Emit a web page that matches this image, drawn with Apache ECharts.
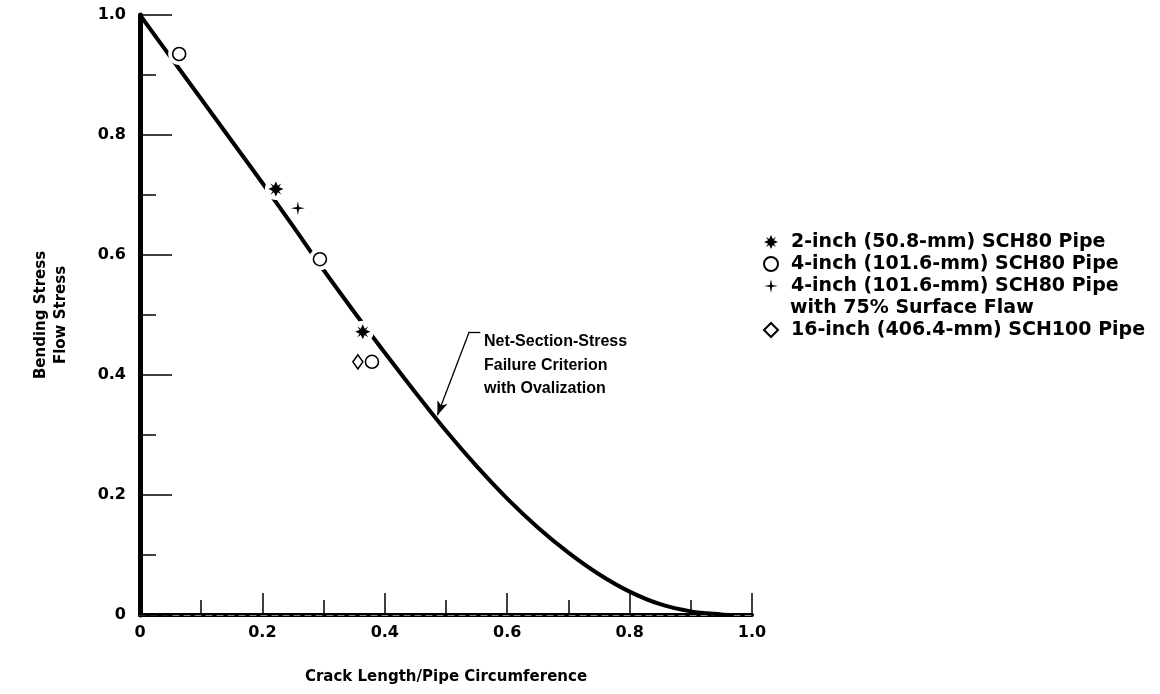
<!DOCTYPE html>
<html>
<head>
<meta charset="utf-8">
<script src="https://cdn.jsdelivr.net/npm/echarts@6/dist/echarts.min.js"></script>
<style>
  html, body { margin: 0; padding: 0; background: #ffffff; }
  #chart { width: 1160px; height: 694px; }
</style>
</head>
<body>
<div id="chart"></div>
<script>
// Net-section-stress failure criterion (with ovalization): crack length ratio vs. stress ratio
const curveX = [0, 0.05, 0.1, 0.15, 0.2, 0.25, 0.3, 0.35, 0.4, 0.45, 0.5, 0.55, 0.6, 0.65, 0.7, 0.75, 0.8, 0.85, 0.9, 0.95, 0.97];
const curveY = [1.0, 0.93, 0.86, 0.79, 0.72, 0.648, 0.575, 0.505, 0.437, 0.371, 0.307, 0.248, 0.194, 0.146, 0.104, 0.068, 0.039, 0.018, 0.006, 0.001, 0.0];

// Test results
const twoInchSch80 = [[0.222, 0.71], [0.364, 0.472]];
const fourInchSch80 = [[0.064, 0.935], [0.294, 0.593], [0.379, 0.422]];
const fourInchFlaw = [[0.258, 0.678]];
const sixteenInchSch100 = [[0.356, 0.422]];

const seriesNames = [
  '2-inch (50.8-mm) SCH80 Pipe',
  '4-inch (101.6-mm) SCH80 Pipe',
  '4-inch (101.6-mm) SCH80 Pipe',
  '16-inch (406.4-mm) SCH100 Pipe'
];
const flawNote = 'with 75% Surface Flaw';
const flawName = seriesNames[2] + ' ';

const xTickLabels = ['0', '0.2', '0.4', '0.6', '0.8', '1.0'];
const yTickLabels = ['0', '0.2', '0.4', '0.6', '0.8', '1.0'];
const xTitle = 'Crack Length/Pipe Circumference';
const yTitle = 'Bending Stress\nFlow Stress';
const curveNote = ['Net-Section-Stress', 'Failure Criterion', 'with Ovalization'];

const SANS = '"Liberation Sans", Arial, sans-serif';
const WIDE = '"DejaVu Sans", sans-serif';

const starPath = 'path://M0,-10 L2.6,-4.2 L7.2,-7.2 L4.2,-2.6 L10,0 L4.2,2.6 L7.2,7.2 L2.6,4.2 L0,10 L-2.6,4.2 L-7.2,7.2 L-4.2,2.6 L-10,0 L-4.2,-2.6 L-7.2,-7.2 L-2.6,-4.2 Z';
const sparkPath = 'path://M0,-10 L1.6,-1.6 L10,0 L1.6,1.6 L0,10 L-1.6,1.6 L-10,0 L-1.6,-1.6 Z';

const curveData = curveX.map((x, i) => [x, curveY[i]]);
const allPoints = twoInchSch80.concat(fourInchSch80, fourInchFlaw, sixteenInchSch100);

const legendText = { color: '#000', fontFamily: WIDE, fontSize: 19, fontWeight: 'bold', lineHeight: 22, padding: [0, 0, 0, 8] };

const chart = echarts.init(document.getElementById('chart'), null, { renderer: 'canvas' });

chart.setOption({
  backgroundColor: '#ffffff',
  animation: false,
  grid: { left: 140, right: 408, top: 15, bottom: 79, containLabel: false },
  xAxis: [{
    type: 'value', min: 0, max: 1, interval: 0.2,
    axisLine: { show: true, onZero: false, lineStyle: { color: '#000', width: 4 } },
    axisTick: { show: true, inside: true, length: 22, lineStyle: { color: '#000', width: 1.5 } },
    minorTick: { show: true, splitNumber: 2, length: 15, lineStyle: { color: '#000', width: 1.5 } },
    splitLine: { show: false },
    axisLabel: {
      margin: 10, color: '#000', fontFamily: WIDE, fontSize: 16, fontWeight: 'bold',
      formatter: v => xTickLabels[Math.round(v / 0.2)]
    },
    name: xTitle, nameLocation: 'middle', nameGap: 55,
    nameTextStyle: { color: '#000', fontFamily: WIDE, fontSize: 15, fontWeight: 'bold' }
  }, {
    type: 'value', min: 0, max: 1, position: 'top',
    axisLine: { show: true, lineStyle: { color: '#888', width: 1, type: [6, 5] } },
    axisTick: { show: false }, axisLabel: { show: false }, splitLine: { show: false }
  }],
  yAxis: [{
    type: 'value', min: 0, max: 1, interval: 0.2,
    axisLine: { show: true, onZero: false, lineStyle: { color: '#000', width: 5 } },
    axisTick: { show: true, inside: true, length: 32, lineStyle: { color: '#000', width: 1.5 } },
    minorTick: { show: true, splitNumber: 2, length: 16, lineStyle: { color: '#000', width: 1.5 } },
    splitLine: { show: false },
    axisLabel: {
      margin: 14, color: '#000', fontFamily: WIDE, fontSize: 16, fontWeight: 'bold',
      formatter: v => yTickLabels[Math.round(v / 0.2)]
    },
    name: yTitle, nameLocation: 'middle', nameGap: 69, nameRotate: 90,
    nameTextStyle: { color: '#000', fontFamily: WIDE, fontSize: 15, fontWeight: 'bold', lineHeight: 20 }
  }, {
    type: 'value', min: 0, max: 1, position: 'right',
    axisLine: { show: true, lineStyle: { color: '#000', width: 2 } },
    axisTick: { show: false }, axisLabel: { show: false }, splitLine: { show: false }
  }],
  legend: [{
    orient: 'vertical', left: 758, top: 226,
    itemWidth: 14, itemHeight: 14, itemGap: 0,
    data: [seriesNames[0], seriesNames[1], flawName],
    textStyle: legendText,
    selectedMode: false
  }, {
    orient: 'vertical', left: 758, top: 314,
    itemWidth: 14, itemHeight: 14, itemGap: 0,
    data: [seriesNames[3]],
    textStyle: legendText,
    selectedMode: false
  }],
  graphic: [{
    type: 'text', left: 790, top: 297, silent: true,
    style: { text: flawNote, fill: '#000', font: 'bold 19px ' + WIDE, lineHeight: 22 }
  }, {
    type: 'text', left: 484, top: 330, silent: true,
    style: { text: curveNote.join('\n'), fill: '#000', font: 'bold 16px ' + SANS, lineHeight: 23.5 }
  }],
  series: [{
    name: 'criterion', type: 'line', data: curveData, smooth: 0.35,
    showSymbol: false, symbol: 'none', z: 2,
    lineStyle: { color: '#000', width: 4 },
    markLine: {
      silent: true, animation: false, precision: 3,
      lineStyle: { color: '#000', width: 1.3, type: 'solid' },
      label: { show: false },
      symbolSize: [8, 14],
      data: [
        [{ coord: [0.556, 0.472], symbol: 'none' }, { coord: [0.538, 0.472], symbol: 'none' }],
        [{ coord: [0.538, 0.472], symbol: 'none' }, { coord: [0.486, 0.333], symbol: 'arrow' }]
      ]
    }
  }, {
    // white halo that breaks the curve around each marker
    name: 'halo', type: 'scatter', data: allPoints, symbol: 'circle', symbolSize: 22, z: 3,
    itemStyle: { color: '#fff', opacity: 1 }, silent: true, legendHoverLink: false
  }, {
    name: seriesNames[0], type: 'scatter', data: twoInchSch80, symbol: starPath, symbolSize: 15, z: 4,
    itemStyle: { color: '#000', opacity: 1 }
  }, {
    name: seriesNames[1], type: 'scatter', data: fourInchSch80, symbol: 'circle', symbolSize: 13, z: 4,
    itemStyle: { color: '#fff', borderColor: '#000', borderWidth: 1.6, opacity: 1 }
  }, {
    name: flawName, type: 'scatter', data: fourInchFlaw, symbol: sparkPath, symbolSize: 14, z: 4,
    itemStyle: { color: '#000', opacity: 1 }
  }, {
    name: seriesNames[3], type: 'scatter', data: sixteenInchSch100, symbol: 'diamond', symbolSize: [10, 14], z: 4,
    itemStyle: { color: '#fff', borderColor: '#000', borderWidth: 1.6, opacity: 1 }
  }]
});
</script>
</body>
</html>
